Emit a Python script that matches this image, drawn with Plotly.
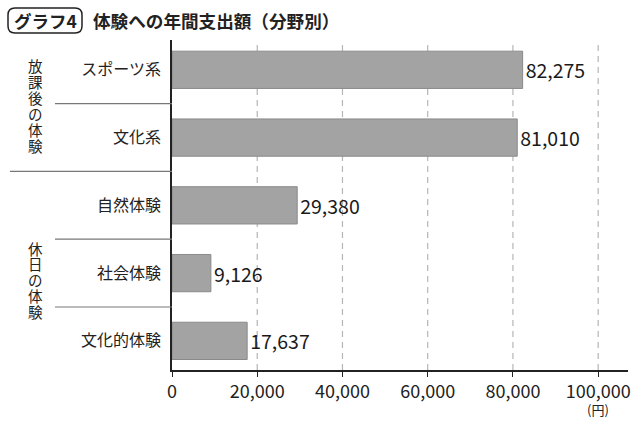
import plotly.graph_objects as go

categories = ["スポーツ系", "文化系", "自然体験", "社会体験", "文化的体験"]
values = [82275, 81010, 29380, 9126, 17637]
groups = ["放課後の体験", "休日の体験"]
tick_vals = [0, 20000, 40000, 60000, 80000, 100000]
tick_text = ["0", "20,000", "40,000", "60,000", "80,000", "100,000"]
unit = "(円)"
badge = "グラフ4"
title = "体験への年間支出額（分野別）"

FONT = "Noto Sans CJK JP"
W, H = 640, 425
L, R, T, B = 172, 12, 40, 55
PW, PH = W - L - R, H - T - B

def px(x):
    return (x - L) / PW

def py(y):
    return (H - B - y) / PH

ypos = list(range(len(categories)))

fig = go.Figure()
fig.add_trace(go.Bar(
    y=ypos, x=values, orientation="h", width=0.55,
    marker=dict(color="#a3a3a3", line=dict(color="#8a8a8a", width=1)),
    text=[f"{v:,}" for v in values], textposition="outside",
    textfont=dict(family=FONT, size=19.5, color="#1a1a1a"),
    cliponaxis=False, hoverinfo="skip",
))

shapes = []
# dashed grid lines
for v in tick_vals[1:]:
    shapes.append(dict(type="line", xref="x", yref="paper", x0=v, x1=v, y0=0, y1=1,
                       line=dict(color="#b5b5b5", width=1.2, dash="6px,5px"), layer="below"))
# separators
for yv, x0 in [(0.5, 55), (1.5, 10), (2.5, 55), (3.5, 55)]:
    shapes.append(dict(type="line", xref="paper", yref="y", x0=px(x0), x1=0, y0=yv, y1=yv,
                       line=dict(color="#777777", width=1.2)))
# title badge rounded box
bx0, bx1, by0, by1, r = 8, 82, 8, 33, 7
def P(x, y):
    return f"{px(x)},{py(y)}"
path = (f"M {P(bx0+r, by0)} L {P(bx1-r, by0)} Q {P(bx1, by0)} {P(bx1, by0+r)} "
        f"L {P(bx1, by1-r)} Q {P(bx1, by1)} {P(bx1-r, by1)} L {P(bx0+r, by1)} "
        f"Q {P(bx0, by1)} {P(bx0, by1-r)} L {P(bx0, by0+r)} Q {P(bx0, by0)} {P(bx0+r, by0)} Z")
shapes.append(dict(type="path", xref="paper", yref="paper", path=path,
                   line=dict(color="#222222", width=1.5)))

ann = []
def A(x, y, text, size, xanchor="center", xref="paper"):
    return dict(xref=xref, yref="paper", x=x, y=y, text=text, xanchor=xanchor, yanchor="middle",
                showarrow=False, font=dict(family=FONT, size=size, color="#222222"))

ann.append(A(px(46), py(21), f"<b>{badge}</b>", 17.5))
ann.append(A(px(91), py(21), f"<b>{title}</b>", 17.6, xanchor="left"))
ann.append(A(100000, py(409), unit, 13, xref="x"))
# vertical group labels
for label, ystart in [(groups[0], 66), (groups[1], 248)]:
    for i, ch in enumerate(label):
        ann.append(A(px(35), py(ystart + i * 15.8), ch, 14.5))

fig.update_layout(
    width=W, height=H, margin=dict(l=L, r=R, t=T, b=B),
    paper_bgcolor="white", plot_bgcolor="white", showlegend=False,
    bargap=0.45, shapes=shapes, annotations=ann,
    font=dict(family=FONT, color="#222222"),
)
fig.update_xaxes(range=[0, 107000], tickvals=tick_vals, ticktext=tick_text, automargin=False,
                 showgrid=False, zeroline=False, showline=True, linecolor="#222222", linewidth=1.5,
                 ticks="outside", ticklen=5, tickcolor="#222222",
                 tickfont=dict(family=FONT, size=18, color="#222222"), fixedrange=True)
fig.update_yaxes(range=[4.43, -0.44], tickvals=ypos, ticktext=categories, automargin=False,
                 showgrid=False, zeroline=False, showline=True, linecolor="#222222", linewidth=1.5,
                 ticks="", ticklabelstandoff=6,
                 tickfont=dict(family=FONT, size=16, color="#222222"), fixedrange=True)

fig.write_html("out.html")
